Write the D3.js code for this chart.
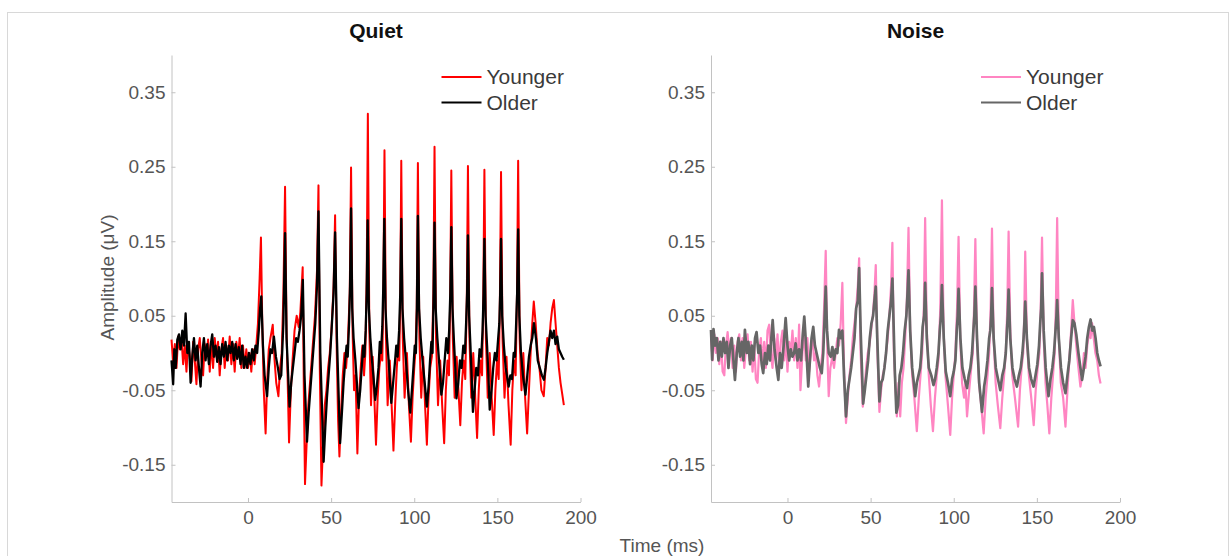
<!DOCTYPE html>
<html lang="en">
<head>
<meta charset="UTF-8">
<title>Quiet vs Noise responses</title>
<script src="https://cdn.jsdelivr.net/npm/d3@7/dist/d3.min.js"></script>
<style>
  body { margin: 0; background: #fff; }
  svg { display: block; font-family: "Liberation Sans", Arial, sans-serif; }
  .axis path, .axis line { stroke: #c2c2c2; stroke-width: 1; }
  .axis text { fill: #555; font-size: 19px; }
  .title { font-size: 21px; font-weight: bold; fill: #111; }
  .lab { font-size: 19px; fill: #555; }
  .leg { font-size: 21px; fill: #3a3a3a; }
</style>
</head>
<body>
<div id="chart"></div>
<script>
// tick values and labels
const xTicks = [0, 50, 100, 150, 200];
const yTicks = [0.35, 0.25, 0.15, 0.05, -0.05, -0.15];
const panelTitles = ["Quiet", "Noise"];
const seriesNames = ["Younger", "Older"];

// time (ms), amplitude (uV)
const quietYounger = [
  [-46,0.018],[-45,-0.012],[-44,0.012],[-43,-0.02],[-42,0.022],[-41,0.005],[-40,0.02],[-39,-0.015],[-38,0.01],[-37,-0.025],
  [-36,0.015],[-35,-0.005],[-34,-0.038],[-33,0.015],[-32,-0.01],[-31,-0.042],[-30,0.005],[-29,0.02],[-28,-0.01],[-27,-0.03],
  [-26,0.012],[-25,-0.005],[-24,0.018],[-23,-0.025],[-22,0.015],[-21,-0.02],[-20,0.02],[-19,-0.005],[-18,0.015],[-17,-0.03],
  [-16,0.005],[-15,0.02],[-14,-0.02],[-13,0.01],[-12,-0.01],[-11,0.022],[-10,-0.015],[-9,0.012],[-8,-0.025],[-7,0.015],
  [-6,-0.005],[-5,0.02],[-4,-0.02],[-3,0.01],[-2,-0.02],[-1,0.005],[0,-0.02],[1,0.0],[2,-0.025],[3,0.005],[4,-0.015],[5,0.01],
  [6,0.04],[7,0.1],[7.8,0.155],[8.6,0.04],[9.5,-0.05],[10.6,-0.108],[11.5,-0.04],[12.5,0.005],[13.5,0.02],[14.9,0.038],
  [16,-0.01],[17,-0.04],[18.3,-0.058],[19.3,-0.02],[20.3,0.0],[21.3,0.08],[22.3,0.223],[23.2,0.03],[24.7,-0.12],[25.8,-0.05],
  [26.8,-0.01],[28,0.03],[29.3,0.05],[30.5,0.035],[31.5,0.055],[32.9,0.115],[33.6,-0.05],[34.3,-0.176],[35.3,-0.12],[36.3,-0.07],
  [37.3,-0.04],[38.3,-0.01],[39.3,0.02],[40.3,0.05],[41.5,0.11],[42.4,0.225],[43.2,-0.02],[44.2,-0.178],[45.2,-0.12],[46.2,-0.07],
  [47.2,-0.05],[48.2,-0.02],[49.2,0.0],[50.2,0.03],[51.5,0.09],[52.4,0.185],[53.4,0.0],[54.2,-0.09],[55,-0.139],[56,-0.08],
  [57,-0.03],[58,0.0],[59,-0.02],[60,0.01],[61.2,0.08],[62,0.249],[62.9,0.03],[63.8,-0.05],[64.7,-0.03],[65.8,-0.135],
  [66.8,-0.06],[67.8,-0.02],[68.8,0.01],[69.8,-0.03],[70.6,0.0],[71.4,0.1],[72.1,0.321],[73,0.03],[74,-0.07],[75,-0.005],
  [76,-0.06],[77,-0.123],[78,-0.06],[79,-0.02],[80,0.0],[80.8,-0.01],[81.4,0.08],[82.1,0.272],[83,0.02],[84,-0.07],
  [85.3,-0.01],[86.4,-0.07],[87.5,-0.131],[88.5,-0.07],[89.5,-0.02],[90.4,0.01],[91,-0.01],[91.6,0.08],[92.2,0.258],[93.1,0.02],
  [94.2,-0.06],[95.6,0.0],[96.8,-0.07],[98,-0.119],[99,-0.06],[100,-0.02],[100.8,0.005],[101.5,0.06],[102.2,0.255],[103.1,0.02],
  [104.2,-0.06],[105.4,-0.005],[106.5,-0.07],[107.6,-0.123],[108.6,-0.06],[109.6,-0.02],[110.6,-0.005],[111.5,0.08],[112.2,0.277],[113.1,0.02],
  [114.3,-0.07],[115.6,-0.01],[116.8,-0.07],[118,-0.121],[119,-0.05],[120,-0.01],[120.9,-0.03],[121.6,0.07],[122.3,0.245],[123.2,0.02],
  [124.3,-0.06],[125.5,-0.005],[126.6,-0.05],[127.7,-0.097],[128.7,-0.04],[129.7,-0.01],[130.7,-0.035],[131.6,0.07],[132.3,0.251],[133.2,0.02],
  [134.3,-0.06],[135.5,0.0],[136.7,-0.06],[137.8,-0.114],[138.8,-0.05],[139.8,-0.01],[140.8,-0.03],[141.5,0.07],[142.2,0.246],[143.1,0.02],
  [144.2,-0.06],[145.4,0.0],[146.6,-0.06],[147.8,-0.11],[148.8,-0.05],[149.8,-0.01],[150.8,-0.035],[151.5,0.07],[152.2,0.243],[153.1,0.02],
  [154.3,-0.06],[155.5,-0.005],[156.7,-0.07],[158,-0.123],[159,-0.05],[160,-0.01],[161,-0.03],[161.8,0.08],[162.5,0.258],[163.4,0.02],
  [164.5,-0.05],[165.6,0.0],[166.7,-0.06],[167.9,-0.108],[169,-0.05],[170,0.0],[171,0.04],[171.9,0.069],[173,0.04],[174.2,0.0],
  [175.3,-0.02],[176.5,-0.05],[177.9,-0.058],[179,-0.02],[180,0.02],[181,0.01],[182,0.04],[183,0.06],[184,0.071],[185,0.04],
  [186,0.01],[187,-0.02],[188,-0.04],[189,-0.055],[190,-0.07]
];

const quietOlder = [
  [-46,-0.01],[-45,-0.042],[-44.3,0.005],[-43.5,-0.02],[-42.5,0.018],[-41.5,0.025],[-40.5,0.005],[-39.5,0.03],[-38.5,0.01],[-37.5,0.053],
  [-36.5,0.0],[-35.5,0.015],[-34.5,-0.04],[-33.5,-0.005],[-32.5,0.02],[-31.5,-0.01],[-30.5,0.01],[-29.5,-0.02],[-28.5,-0.045],[-27.5,0.0],
  [-26.5,0.02],[-25.5,-0.01],[-24.5,0.012],[-23.5,-0.015],[-22.5,0.01],[-21.5,0.025],[-20.5,-0.005],[-19.5,0.01],[-18.5,-0.012],[-17.5,0.008],
  [-16.5,-0.015],[-15.5,0.012],[-14.5,-0.005],[-13.5,0.015],[-12.5,-0.01],[-11.5,0.01],[-10.5,0.0],[-9.5,0.015],[-8.5,-0.01],[-7.5,0.012],
  [-6.5,-0.008],[-5.5,0.008],[-4.5,-0.015],[-3.5,0.01],[-2.5,-0.02],[-1.5,-0.005],[-0.5,-0.02],[0.5,0.0],[1.5,-0.015],[2.5,0.005],
  [3.5,-0.01],[4.5,0.01],[5.5,0.0],[6.5,0.03],[7.3,0.06],[8,0.076],[9,0.01],[10,-0.03],[11.5,-0.058],[12.5,-0.02],
  [13.5,0.005],[14.5,0.0],[15.6,0.022],[16.8,-0.005],[18,-0.02],[19,-0.035],[20,-0.03],[21.3,0.04],[22.3,0.161],[23.2,0.02],
  [25,-0.072],[26,-0.04],[27,-0.02],[28,0.0],[29,0.02],[30,0.015],[31,0.03],[32,0.05],[33,0.098],[34,-0.03],
  [35.5,-0.119],[36.5,-0.08],[37.5,-0.05],[38.5,-0.02],[39.5,0.01],[40.5,0.04],[41.5,0.09],[42.4,0.19],[43.5,0.0],[45.5,-0.146],
  [46.5,-0.1],[47.5,-0.06],[48.5,-0.03],[49.5,0.0],[50.5,0.04],[51.5,0.08],[52.4,0.162],[53.5,0.02],[55.4,-0.121],[56.5,-0.08],
  [57.5,-0.04],[58.5,-0.01],[59.3,0.01],[60,-0.005],[60.8,0.04],[61.4,0.09],[62,0.194],[62.7,0.06],[63.5,0.02],[64.6,-0.01],
  [65.5,-0.04],[66.5,-0.074],[67.5,-0.05],[68.4,-0.02],[69.3,0.01],[70,-0.005],[70.8,0.03],[71.4,0.08],[72,0.178],[72.7,0.06],
  [73.6,0.02],[74.6,-0.01],[75.6,-0.035],[76.5,-0.063],[77.5,-0.045],[78.5,-0.02],[79.3,0.015],[80,0.0],[80.8,0.035],[81.4,0.09],
  [82,0.18],[82.7,0.06],[83.6,0.02],[84.6,-0.01],[85.4,-0.04],[86.2,-0.067],[87.3,-0.04],[88.3,-0.015],[89.2,0.01],[90,-0.005],
  [90.9,0.03],[91.6,0.08],[92.2,0.18],[92.9,0.06],[93.9,0.02],[95,-0.01],[96.3,-0.05],[97.6,-0.08],[98.6,-0.05],[99.5,-0.02],
  [100.3,0.01],[101,0.0],[101.6,0.06],[102.2,0.184],[102.9,0.06],[103.9,0.02],[105,-0.01],[106.3,-0.04],[107.6,-0.072],[108.6,-0.045],
  [109.5,-0.01],[110.3,0.015],[111,0.0],[111.6,0.07],[112.2,0.175],[112.9,0.06],[113.9,0.02],[114.9,-0.01],[115.7,-0.035],[116.3,-0.056],
  [117.3,-0.04],[118.3,-0.01],[119.3,0.02],[120.3,0.0],[121,0.03],[121.7,0.08],[122.3,0.169],[123,0.06],[123.9,0.015],[124.7,-0.02],
  [125.4,-0.061],[126.5,-0.04],[127.5,-0.01],[128.5,-0.02],[129.5,0.01],[130.5,0.0],[131.2,0.04],[131.8,0.08],[132.3,0.158],[133,0.05],
  [133.8,0.01],[134.5,-0.03],[135.3,-0.079],[136.3,-0.05],[137.3,-0.02],[138.3,-0.03],[139.3,0.005],[140.3,-0.005],[141.1,0.03],[141.7,0.08],
  [142.2,0.153],[142.9,0.05],[143.8,0.01],[144.6,-0.03],[145.4,-0.076],[146.5,-0.05],[147.5,-0.02],[148.5,0.0],[149.5,-0.01],[150.5,0.02],
  [151.2,0.04],[151.7,0.08],[152.2,0.153],[152.9,0.05],[153.9,0.01],[155,-0.02],[156.8,-0.045],[157.8,-0.03],[158.8,-0.035],[159.8,0.0],
  [160.6,-0.005],[161.3,0.04],[161.9,0.08],[162.5,0.166],[163.2,0.05],[164.2,0.0],[165.4,-0.03],[166.9,-0.056],[168,-0.03],[169,-0.005],
  [170,0.01],[171,0.02],[172,0.04],[173.2,0.02],[174.3,-0.01],[175.5,-0.02],[176.8,-0.03],[178,-0.036],[179,-0.02],[180,0.0],
  [181,0.015],[182,0.03],[183,0.02],[184,0.03],[185,0.012],[186,0.022],[187,0.005],[188,0.0],[189,-0.005],[190,-0.009]
];

const noiseYounger = [
  [-46,0.02],[-45,-0.01],[-44,0.025],[-43,0.0],[-42,0.02],[-41,-0.015],[-40,0.015],[-39,-0.025],[-38,-0.03],[-37,0.01],
  [-36,0.028],[-35,0.0],[-34,0.02],[-33,-0.02],[-32,0.01],[-31,-0.025],[-30,0.015],[-29,0.025],[-28,-0.01],[-27,0.02],
  [-26,-0.02],[-25,0.005],[-24,0.025],[-23,-0.01],[-22,0.015],[-21,-0.025],[-20,0.01],[-19,-0.035],[-18,-0.04],[-17,0.005],
  [-16,0.02],[-15,-0.015],[-14,0.015],[-13,-0.02],[-12,0.03],[-11,0.038],[-10,0.0],[-9,-0.02],[-8,0.02],[-7,-0.01],
  [-6,0.025],[-5,-0.02],[-4,0.015],[-3,0.03],[-2,-0.01],[-1,0.02],[0,-0.025],[1,0.015],[2,0.0],[3,0.03],
  [4,-0.01],[5,0.02],[6,-0.02],[7,0.038],[7.8,-0.05],[9,0.0],[10,0.03],[11,-0.01],[12,0.02],[13,-0.025],
  [14,0.0],[15,0.025],[16,-0.01],[17,0.0],[18,-0.03],[19,-0.045],[20,-0.02],[21,0.0],[22,0.06],[23,0.137],
  [24,0.0],[24.8,-0.058],[25.8,-0.02],[27,-0.005],[28,-0.02],[29,0.0],[30,0.02],[31,0.01],[32,0.04],[33,0.094],
  [34,-0.02],[35.2,-0.094],[36.3,-0.06],[37.3,-0.03],[38.3,-0.01],[39.3,0.02],[40.3,0.04],[41.3,0.06],[42.3,0.09],[43.1,0.127],
  [44,0.0],[45.3,-0.072],[46.3,-0.05],[47.3,-0.02],[48.3,0.0],[49.3,0.01],[50.3,0.03],[51.3,0.05],[52.3,0.08],[53.1,0.118],
  [54.1,0.0],[55.3,-0.079],[56.3,-0.05],[57.3,-0.03],[58.3,-0.02],[59.3,0.0],[60.3,0.02],[61.3,0.05],[62.3,0.09],[63.1,0.148],
  [64,0.0],[65.8,-0.085],[66.8,-0.04],[67.8,-0.085],[68.8,-0.04],[69.8,-0.02],[70.8,0.02],[71.8,0.07],[72.8,0.168],[73.8,0.03],
  [75,-0.03],[76.3,-0.06],[77.8,-0.105],[79,-0.06],[80,-0.03],[81,0.0],[82,0.06],[82.8,0.181],[83.8,0.03],[85,-0.03],
  [86.2,-0.07],[87.5,-0.105],[88.7,-0.06],[89.8,-0.03],[90.8,-0.01],[91.9,0.06],[92.9,0.205],[93.9,0.03],[95,-0.03],[96.5,-0.07],
  [97.9,-0.11],[99,-0.06],[100,-0.03],[101,0.0],[102,0.06],[102.9,0.156],[103.9,0.02],[105,-0.04],[106.2,-0.06],[107,-0.04],
  [108,-0.085],[109.3,-0.05],[110.5,-0.02],[111.5,0.0],[112.2,0.06],[113,0.153],[114,0.02],[115.2,-0.04],[116.5,-0.07],[118,-0.108],
  [119.2,-0.06],[120.3,-0.03],[121.3,0.0],[122.2,0.06],[123,0.167],[124,0.02],[125.2,-0.04],[126.5,-0.07],[128,-0.101],[129.2,-0.06],
  [130.3,-0.03],[131.3,0.0],[132.2,0.06],[133,0.163],[134,0.03],[135.2,-0.03],[136.8,-0.06],[138.7,-0.099],[139.8,-0.05],[140.8,-0.02],
  [141.8,0.0],[142.4,0.05],[143,0.136],[144,0.02],[145.2,-0.03],[146.6,-0.06],[148.1,-0.097],[149.3,-0.05],[150.5,-0.02],[151.5,0.0],
  [152.3,0.06],[153.1,0.155],[154.1,0.02],[155.2,-0.04],[156.3,-0.07],[157.5,-0.108],[158.7,-0.06],[159.7,-0.03],[160.7,0.0],[161.5,0.07],
  [162.2,0.181],[163.2,0.02],[164.4,-0.04],[165.8,-0.06],[167.2,-0.099],[168.4,-0.05],[169.5,-0.01],[170.6,0.03],[171.6,0.071],[172.6,0.04],
  [173.7,0.01],[175,-0.02],[176.2,-0.045],[177.3,-0.03],[178.3,0.0],[179.3,-0.02],[180.3,0.01],[181.5,0.03],[182.3,0.02],[183.2,0.04],
  [184.2,0.02],[185.2,0.0],[186.3,-0.01],[187.3,-0.03],[188.3,-0.041]
];

const noiseOlder = [
  [-46,0.031],[-45.3,-0.009],[-44.5,0.032],[-43.5,0.01],[-42.5,0.02],[-41.5,-0.01],[-40.5,0.015],[-39.5,-0.005],[-38.5,0.02],[-37.5,0.0],
  [-36.5,0.015],[-35.5,-0.02],[-34.5,0.01],[-33.5,0.02],[-32.5,-0.01],[-31.6,-0.036],[-30.5,0.0],[-29.5,0.02],[-28.5,-0.005],[-27.5,0.015],
  [-26.5,-0.01],[-25.6,0.031],[-24.5,0.0],[-23.5,0.015],[-22.5,-0.015],[-21.5,0.01],[-20.5,-0.01],[-19.5,0.02],[-18.6,0.028],[-17.5,0.0],
  [-16.5,0.01],[-15.5,-0.015],[-14.6,-0.027],[-13.5,0.0],[-12.5,-0.015],[-11.5,0.01],[-10.5,-0.01],[-9.7,0.02],[-8.9,0.044],[-7.8,0.005],
  [-6.5,-0.02],[-5.5,-0.036],[-4.5,0.0],[-3.5,-0.02],[-2.3,0.01],[-1.1,0.047],[0,0.01],[1,-0.01],[2,0.005],[3,-0.005],
  [4,0.0],[4.9,0.013],[6,-0.01],[7,0.005],[8.2,-0.01],[9.2,0.025],[10.1,0.049],[11.2,0.01],[12.5,-0.045],[13.5,-0.01],
  [14.5,0.02],[15.5,0.035],[16.5,0.01],[17.5,0.0],[18.5,-0.01],[19.5,-0.02],[20.6,-0.027],[21.5,0.0],[22.2,0.04],[23,0.089],
  [23.8,0.03],[24.8,0.0],[26,-0.005],[27,0.008],[28,-0.009],[29,0.005],[30,0.0],[31,0.031],[32,0.02],[33,0.03],
  [34,-0.03],[35.2,-0.085],[36.3,-0.05],[37.3,-0.035],[38.3,-0.02],[39.3,0.0],[40.3,0.02],[41.3,0.06],[42.3,0.07],[43.1,0.114],
  [44,0.03],[45.5,-0.068],[46.5,-0.05],[47.5,-0.03],[48.5,-0.01],[49.5,0.02],[50.5,0.04],[51.5,0.05],[52.3,0.07],[53.1,0.089],
  [54,0.02],[55.3,-0.065],[56.3,-0.04],[57.3,-0.035],[58.3,-0.02],[59.3,0.0],[60.3,0.03],[61.3,0.05],[62.3,0.07],[63.1,0.1],
  [64.5,-0.02],[65.5,-0.08],[66.5,-0.07],[67.5,-0.03],[68.5,-0.02],[69.5,0.0],[70.5,0.03],[71.5,0.05],[72.2,0.08],[72.8,0.111],
  [73.8,0.03],[75,-0.02],[76,-0.04],[76.8,-0.058],[77.8,-0.04],[78.8,-0.03],[79.8,-0.02],[80.5,0.0],[81.3,0.035],[82.2,0.05],
  [82.8,0.094],[83.8,0.02],[85,-0.02],[86.5,-0.03],[87.8,-0.043],[88.8,-0.035],[89.8,-0.02],[90.8,0.0],[91.6,0.03],[92.3,0.05],
  [92.9,0.091],[94,0.02],[95.2,-0.025],[96.5,-0.04],[97.9,-0.058],[99,-0.035],[100,-0.025],[101,-0.01],[101.8,0.03],[102.4,0.05],
  [102.9,0.086],[104,0.02],[105.2,-0.02],[106.6,-0.035],[108,-0.047],[109,-0.03],[110,-0.02],[111,0.0],[111.8,0.03],[112.4,0.05],
  [113,0.089],[114,0.02],[115.3,-0.04],[117,-0.079],[118.3,-0.045],[119.3,-0.03],[120.3,-0.01],[121.3,0.02],[122,0.03],[122.5,0.05],
  [123,0.087],[124,0.02],[125.3,-0.02],[126.6,-0.035],[128,-0.05],[129.2,-0.03],[130.3,-0.02],[131.3,0.0],[132,0.03],[132.5,0.05],
  [133,0.085],[134,0.02],[135.3,-0.02],[136.6,-0.035],[138,-0.045],[139.2,-0.03],[140.3,-0.02],[141.3,0.0],[142,0.02],[142.5,0.04],
  [143,0.069],[144,0.02],[145.3,-0.02],[146.6,-0.035],[148,-0.045],[149.2,-0.03],[150.3,-0.015],[151.3,0.01],[152,0.04],[152.6,0.06],
  [153.1,0.107],[154.1,0.03],[155.3,-0.02],[156.2,-0.04],[157,-0.058],[158.2,-0.035],[159.3,-0.02],[160.3,0.0],[161.2,0.03],[161.8,0.05],
  [162.2,0.071],[163.2,0.02],[164.5,-0.02],[165.8,-0.04],[167.2,-0.054],[168.4,-0.03],[169.5,-0.01],[170.6,0.02],[171.6,0.044],[172.6,0.04],
  [173.7,0.025],[175,0.0],[176.2,-0.02],[177.2,-0.036],[178.3,-0.02],[179.3,-0.005],[180.3,0.02],[181.3,0.035],[182.3,0.045],[183.3,0.03],
  [184.3,0.035],[185.3,0.02],[186.3,0.0],[187.3,-0.01],[188.3,-0.018]
];

const W = 1231, H = 556;
const svg = d3.select("#chart").append("svg").attr("width", W).attr("height", H);

// light frame round the figure
svg.append("rect").attr("x", 7.5).attr("y", 12.5).attr("width", 1221).attr("height", 600)
  .attr("fill", "none").attr("stroke", "#d8d8d8");

const y = d3.scaleLinear().domain([-0.2, 0.4]).range([502, 55]);

const panels = [
  { left: 171.5, right: 580.5, series: [quietYounger, quietOlder], colors: ["#ff0000", "#000000"], widths: [2, 2.3] },
  { left: 711, right: 1120, series: [noiseYounger, noiseOlder], colors: ["#ff85c2", "#666666"], widths: [2.2, 2.7] }
];

panels.forEach(function(p, i) {
  const x = d3.scaleLinear().domain([-46, 200]).range([p.left, p.right]);
  const g = svg.append("g");

  g.append("g").attr("class", "axis")
    .attr("transform", "translate(" + p.left + ",0)")
    .call(d3.axisLeft(y).tickValues(yTicks).tickSize(-4).tickSizeOuter(0).tickPadding(6)
      .tickFormat(function(d) { return d.toFixed(2); }));

  g.append("g").attr("class", "axis")
    .attr("transform", "translate(0,502)")
    .call(d3.axisBottom(x).tickValues(xTicks).tickSize(-4).tickSizeOuter(0).tickPadding(9));

  const line = d3.line().x(function(d) { return x(d[0]); }).y(function(d) { return y(d[1]); });

  p.series.forEach(function(s, k) {
    g.append("path").datum(s)
      .attr("d", line)
      .attr("fill", "none")
      .attr("stroke", p.colors[k])
      .attr("stroke-width", p.widths[k])
      .attr("stroke-linejoin", "round");
  });

  g.append("text").attr("class", "title")
    .attr("x", (p.left + p.right) / 2).attr("y", 38)
    .attr("text-anchor", "middle").text(panelTitles[i]);

  // legend
  seriesNames.forEach(function(name, k) {
    const ly = 77 + k * 25.5;
    g.append("line")
      .attr("x1", p.left + 270).attr("x2", p.left + 310)
      .attr("y1", ly).attr("y2", ly)
      .attr("stroke", p.colors[k]).attr("stroke-width", 2.2);
    g.append("text").attr("class", "leg")
      .attr("x", p.left + 315).attr("y", ly).attr("dy", "0.35em")
      .text(name);
  });
});

svg.append("text").attr("class", "lab")
  .attr("transform", "translate(114,277.5) rotate(-90)")
  .attr("text-anchor", "middle").text("Amplitude (\u03bcV)");

svg.append("text").attr("class", "lab")
  .attr("x", 662).attr("y", 552)
  .attr("text-anchor", "middle").text("Time (ms)");
</script>
</body>
</html>
